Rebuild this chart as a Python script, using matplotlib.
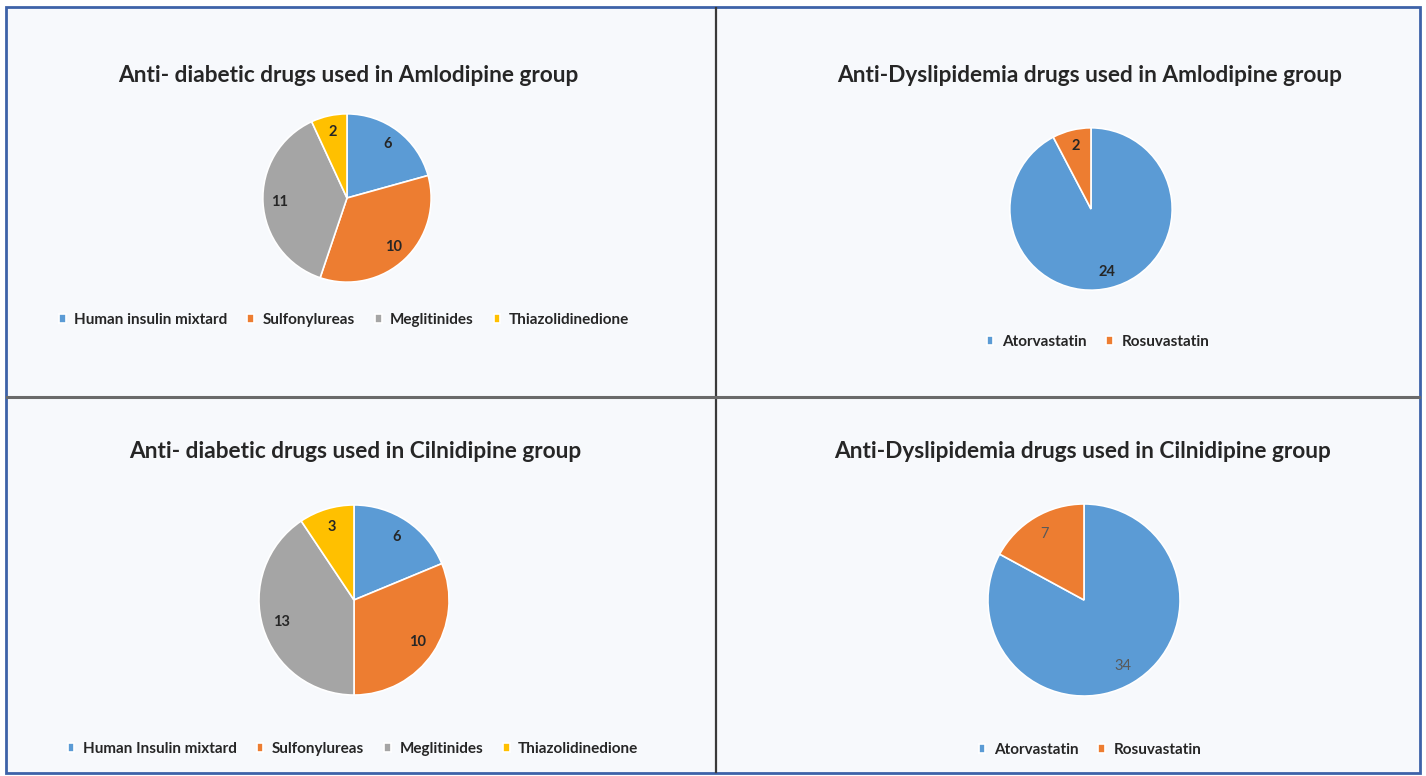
import matplotlib.pyplot as plt
from matplotlib.patches import Rectangle
from matplotlib.lines import Line2D

# data
diabetic_labels_aml = ['Human insulin mixtard', 'Sulfonylureas', 'Meglitinides', 'Thiazolidinedione']
diabetic_labels_cil = ['Human Insulin mixtard', 'Sulfonylureas', 'Meglitinides', 'Thiazolidinedione']
diabetic_aml = [6, 10, 11, 2]
diabetic_cil = [6, 10, 13, 3]

lipid_labels = ['Atorvastatin', 'Rosuvastatin']
lipid_aml = [24, 2]
lipid_cil = [34, 7]

colors = ['#5B9BD5', '#ED7D31', '#A5A5A5', '#FFC000']

W, H = 1426, 776
plt.rcParams['font.family'] = ['Lato', 'DejaVu Sans']


def fx(x):
    return x / W


def fy(y):
    return 1 - y / H


fig = plt.figure(figsize=(W / 100, H / 100), dpi=100)
fig.patch.set_facecolor('white')

# panel background and frame lines (kept behind the pie axes)
fig.add_artist(Rectangle((fx(6), fy(773)), fx(1420) - fx(6), fy(7) - fy(773),
                         transform=fig.transFigure, facecolor='#F7F9FC',
                         edgecolor='#3D62A8', linewidth=2, zorder=-10))
fig.add_artist(Line2D([fx(716), fx(716)], [fy(8), fy(772)], transform=fig.transFigure,
                      color='#3a3a3a', linewidth=1.6, zorder=-5))
fig.add_artist(Line2D([fx(7), fx(1419)], [fy(397), fy(397)], transform=fig.transFigure,
                      color='#6a6a6a', linewidth=2.2, zorder=-5))


def draw_pie(values, labels, cx, cy, r, title, title_xy, legend_xy, label_style):
    ax = fig.add_axes([fx(cx - r), fy(cy + r), 2 * r / W, 2 * r / H])
    ax.set_facecolor('none')
    total = sum(values)
    wedges, _, autotexts = ax.pie(
        values, colors=colors[:len(values)], startangle=90, counterclock=False,
        autopct=lambda p: '%d' % round(p * total / 100), pctdistance=0.8,
        wedgeprops=dict(edgecolor='white', linewidth=1.2))
    for t in autotexts:
        t.set(**label_style)
    ax.set_xlim(-1.01, 1.01)
    ax.set_ylim(-1.01, 1.01)
    ax.set_aspect('auto')
    fig.text(fx(title_xy[0]), fy(title_xy[1]), title, ha='center', va='center',
             fontsize=16.3, fontweight='bold', color='#262626')
    fig.legend(wedges, labels, loc='center', bbox_to_anchor=(fx(legend_xy[0]), fy(legend_xy[1])),
               ncol=len(values), frameon=False, handlelength=0.45, handleheight=0.55,
               handletextpad=0.55, columnspacing=1.3,
               prop=dict(size=11, weight='bold'), labelcolor='#262626')


bold_label = dict(fontsize=10.5, fontweight='bold', color='#262626')
plain_label = dict(fontsize=10.5, fontweight='normal', color='#595959')

draw_pie(diabetic_aml, diabetic_labels_aml, 347, 198, 85,
         'Anti- diabetic drugs used in Amlodipine group', (348, 75), (344, 320), bold_label)
draw_pie(lipid_aml, lipid_labels, 1091, 209, 82,
         'Anti-Dyslipidemia drugs used in Amlodipine group', (1090, 76), (1098, 342), bold_label)
draw_pie(diabetic_cil, diabetic_labels_cil, 354, 600, 96,
         'Anti- diabetic drugs used in Cilnidipine group', (355, 451), (353, 749), bold_label)
draw_pie(lipid_cil, lipid_labels, 1084, 600, 97,
         'Anti-Dyslipidemia drugs used in Cilnidipine group', (1083, 451), (1090, 750), plain_label)

fig.savefig('out.png', dpi=100)
